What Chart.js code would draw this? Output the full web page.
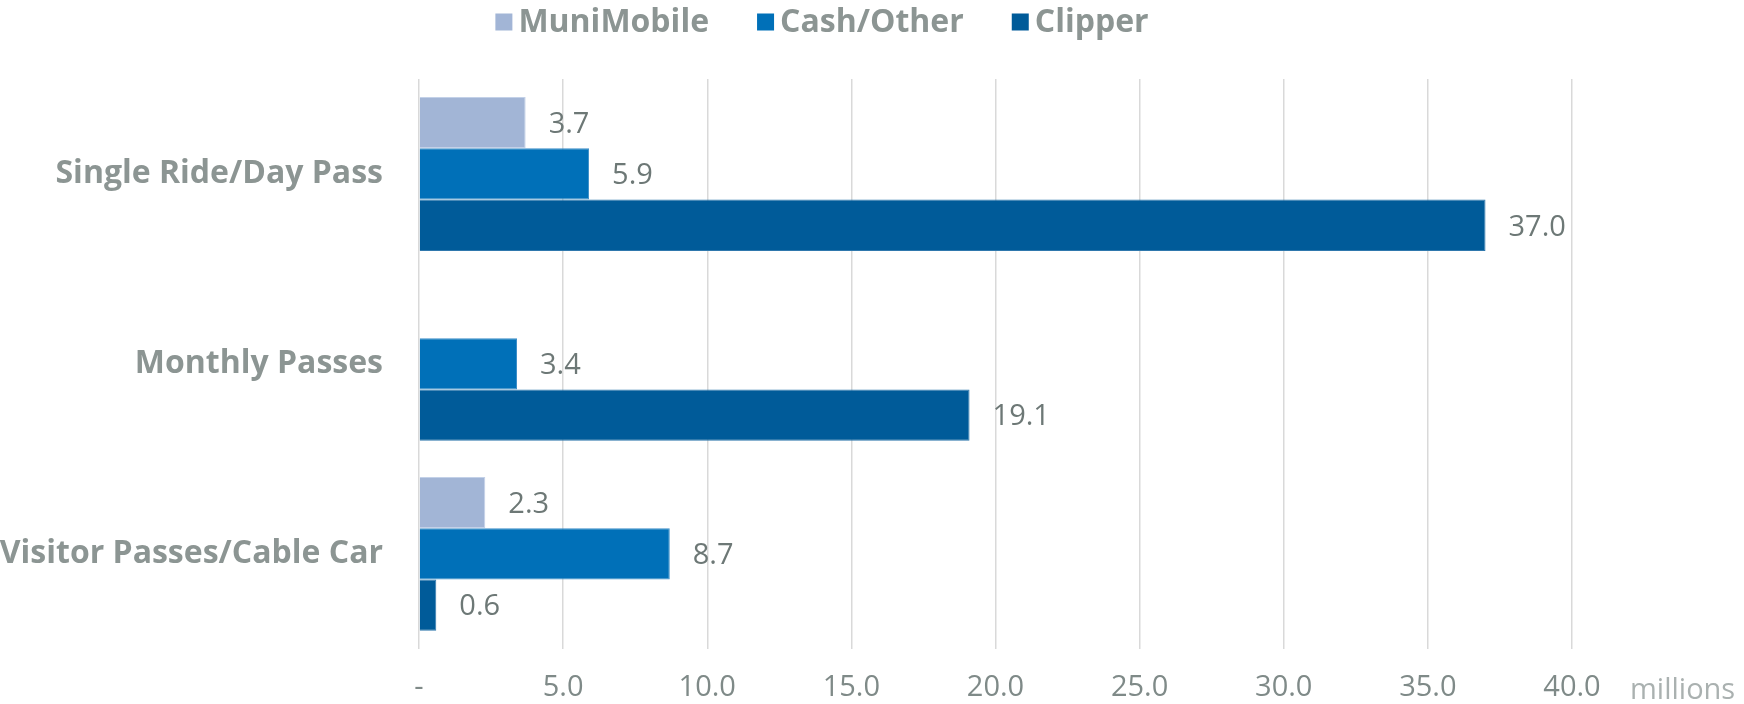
<!DOCTYPE html>
<html>
<head>
<meta charset="utf-8">
<script src="https://cdn.jsdelivr.net/npm/chart.js@4.4.0/dist/chart.umd.min.js"></script>
<style>
  html, body { margin: 0; padding: 0; background: #fff; }
  #wrap { width: 1744px; height: 704px; }
</style>
</head>
<body>
<div id="wrap"><canvas id="my-chart"></canvas></div>
<script>
// data (millions of trips)
var categories = ['Single Ride/Day Pass', 'Monthly Passes', 'Visitor Passes/Cable Car'];
var seriesNames = ['MuniMobile', 'Cash/Other', 'Clipper'];
var muniMobile = [3.7, null, 2.3];
var cashOther = [5.9, 3.4, 8.7];
var clipper = [37.0, 19.1, 0.6];
var xMin = 0, xMax = 40, xStep = 5;
var unitLabel = 'millions';

var colors = ['#a2b5d6', '#0070b8', '#005b99'];
var edges = ['#c3d1e8', '#3d8fc8', '#2f78ad'];
var font = '"Open Sans", "Noto Sans", sans-serif';

// value labels to the right of each bar
var valueLabels = {
  id: 'valueLabels',
  afterDatasetsDraw: function(chart) {
    var ctx = chart.ctx;
    ctx.save();
    ctx.font = '29px ' + font;
    ctx.fillStyle = '#6d7876';
    ctx.textAlign = 'left';
    ctx.textBaseline = 'middle';
    chart.data.datasets.forEach(function(ds, i) {
      chart.getDatasetMeta(i).data.forEach(function(bar, j) {
        var v = ds.data[j];
        if (v === null) return;
        ctx.fillText(v.toFixed(1), bar.x + 23, bar.y + 2);
      });
    });
    ctx.restore();
  }
};

// legend at the top and the unit after the last tick
var extras = {
  id: 'extras',
  afterDraw: function(chart) {
    var ctx = chart.ctx;
    var sets = chart.data.datasets;
    ctx.save();
    ctx.font = 'bold 32px ' + font;
    ctx.textBaseline = 'middle';
    var box = 17, gap = 6, space = 48, total = 0;
    sets.forEach(function(ds, i) {
      total += box + gap + ctx.measureText(ds.label).width + (i ? space : 0);
    });
    var x = 822 - total / 2, y = 22;
    sets.forEach(function(ds) {
      ctx.fillStyle = ds.backgroundColor;
      ctx.fillRect(x, y - box / 2, box, box);
      x += box + gap;
      ctx.fillStyle = '#8c9593';
      ctx.fillText(ds.label, x, y + 1);
      x += ctx.measureText(ds.label).width + space;
    });

    var xs = chart.scales.x;
    ctx.font = '29px ' + font;
    ctx.fillStyle = '#aab1b0';
    ctx.textAlign = 'left';
    ctx.fillText(unitLabel, xs.getPixelForValue(xMax) + 58, 691);
    ctx.restore();
  }
};

var myChart = new Chart(document.getElementById('my-chart').getContext('2d'), {
  type: 'bar',
  data: {
    labels: categories,
    datasets: [
      { label: seriesNames[0], data: muniMobile, backgroundColor: colors[0], borderColor: edges[0], borderWidth: 1 },
      { label: seriesNames[1], data: cashOther, backgroundColor: colors[1], borderColor: edges[1], borderWidth: 1 },
      { label: seriesNames[2], data: clipper, backgroundColor: colors[2], borderColor: edges[2], borderWidth: 1 }
    ]
  },
  options: {
    indexAxis: 'y',
    responsive: true,
    maintainAspectRatio: false,
    animation: false,
    datasets: { bar: { barPercentage: 1, categoryPercentage: 0.81 } },
    layout: { padding: { top: 79, right: 172, left: 0, bottom: 0 } },
    plugins: {
      legend: { display: false },
      tooltip: { enabled: false }
    },
    scales: {
      x: {
        min: xMin,
        max: xMax,
        border: { display: false },
        grid: { color: '#d9d9d9', lineWidth: 1.5, drawTicks: false },
        ticks: {
          stepSize: xStep,
          padding: 22,
          color: '#7f8a88',
          font: { family: font, size: 29 },
          callback: function(v) { return v === 0 ? '-' : v.toFixed(1); }
        },
        afterFit: function(s) { s.height = 54; }
      },
      y: {
        border: { display: false },
        grid: { display: false, drawTicks: false },
        ticks: {
          padding: 36,
          color: '#8c9593',
          font: { family: font, size: 32, weight: 'bold' }
        },
        afterFit: function(s) { s.width = 419; }
      }
    }
  },
  plugins: [valueLabels, extras]
});
</script>
</body>
</html>
